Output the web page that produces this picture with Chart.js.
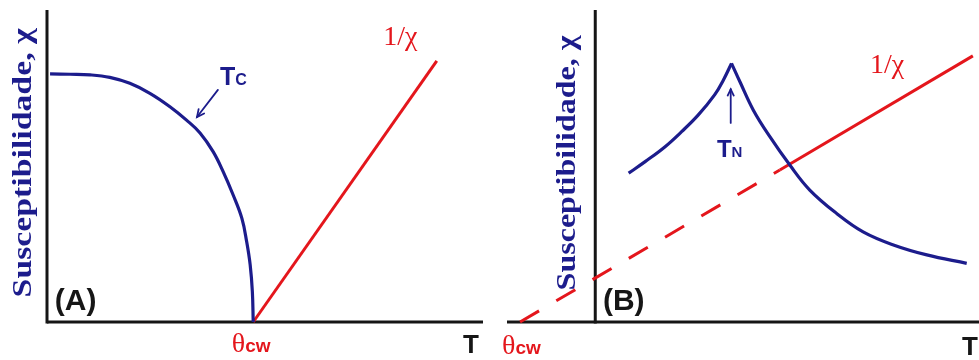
<!DOCTYPE html>
<html><head><meta charset="utf-8">
<script src="https://cdn.jsdelivr.net/npm/chart.js@4.4.1/dist/chart.umd.min.js"></script>
<style>
html,body{margin:0;padding:0;background:#fff;}
#wrap{position:relative;width:979px;height:360px;overflow:hidden;background:#fff;}
canvas{position:absolute;top:0;}
</style></head><body>
<div id="wrap">
<canvas id="ca" width="490" height="360" style="left:0;width:490px;height:360px"></canvas>
<canvas id="cb" width="489" height="360" style="left:490px;width:489px;height:360px"></canvas>
</div>
<script>
// ---------- data ----------
// Panel A: ferromagnet
const tA_chi  = [0.7, 5.3, 9.9, 14.4, 19.0, 23.6, 28.2, 32.0, 35.1, 38.1, 40.4, 42.7, 44.7, 45.8, 46.6, 47.1, 47.3];
const chiA    = [79.5, 79.4, 79.2, 78.4, 76.5, 73.3, 69.0, 64.7, 60.6, 54.6, 48.2, 40.7, 33.2, 25.7, 18.3, 9.7, 0];
const tA_inv  = [47.3, 89.4];
const invA    = [0, 83.7];
// Panel B: antiferromagnet
const tB_chiLow  = [8.7, 13.0, 18.2, 22.5, 26.8, 31.1, 33.4, 35.5];
const chiB_low   = [47.7, 51.4, 56.2, 61.0, 66.3, 72.8, 77.6, 82.9];
const tB_chiHigh = [35.5, 37.7, 41.2, 45.5, 50.7, 55.9, 62.9, 69.8, 77.7, 86.4, 96.8];
const chiB_high  = [82.9, 77.0, 67.9, 59.4, 50.3, 42.3, 34.8, 28.9, 24.7, 21.5, 18.8];
const tB_inv  = [-19.6, 48.1, 98.4];   // θcw, start of measured region, end
const invB    = [0, 48.7, 85.3];
// text labels
const yTitle = 'Susceptibilidade, χ';
const invLabel = '1/χ';
const tLabel = 'T';
const thetaMain = 'θ', thetaSub = 'cw';
const tcMain = 'T', tcSub = 'C';
const tnMain = 'T', tnSub = 'N';
const panelA = '(A)', panelB = '(B)';

// ---------- styling ----------
const NAVY = '#1c1c8c', RED = '#e4161c', INK = '#161616';
const SERIF = '"Liberation Serif", "Times New Roman", "DejaVu Serif", serif';
const SANS = '"Liberation Sans", Arial, sans-serif';

const pts = (xs, ys) => xs.map((x, i) => ({x, y: ys[i]}));

const annot = {
  id: 'annot',
  beforeDatasetsDraw(chart, args, o) {
    const {ctx, chartArea: ca, scales: {x, y}} = chart;
    const x0 = x.getPixelForValue(0), y0 = y.getPixelForValue(0);
    ctx.save();
    ctx.strokeStyle = INK; ctx.lineWidth = 3; ctx.lineCap = 'butt';
    ctx.beginPath(); ctx.moveTo(x0, ca.top); ctx.lineTo(x0, y0 + 1.5); ctx.stroke();
    ctx.beginPath(); ctx.moveTo(ca.left, y0); ctx.lineTo(ca.right, y0); ctx.stroke();
    // rotated y title, stretched to the reference length
    ctx.translate(x0 - o.titleGap, y.getPixelForValue(o.titleMid));
    ctx.rotate(-Math.PI / 2);
    ctx.font = 'bold ' + o.titleSize + 'px ' + SERIF;
    const w = ctx.measureText(yTitle).width;
    ctx.scale(o.titleLen / w, 1);
    ctx.fillStyle = NAVY; ctx.textAlign = 'center'; ctx.textBaseline = 'middle';
    ctx.fillText(yTitle, 0, 0);
    ctx.restore();
  },
  afterDatasetsDraw(chart, args, o) {
    const {ctx, scales: {x, y}} = chart;
    ctx.save();
    ctx.textBaseline = 'alphabetic'; ctx.textAlign = 'left';
    for (const lab of o.labels) {
      let px = x.getPixelForValue(lab.x);
      const py = y.getPixelForValue(lab.y);
      ctx.fillStyle = lab.color;
      for (const p of lab.parts) {
        ctx.font = p.font;
        ctx.fillText(p.t, px, py);
        px += ctx.measureText(p.t).width + (p.gap || 0);
      }
    }
    for (const a of o.arrows) {
      const x1 = x.getPixelForValue(a.from[0]), y1 = y.getPixelForValue(a.from[1]);
      const x2 = x.getPixelForValue(a.to[0]), y2 = y.getPixelForValue(a.to[1]);
      ctx.strokeStyle = a.color; ctx.lineWidth = a.width; ctx.lineCap = 'round';
      ctx.beginPath(); ctx.moveTo(x1, y1); ctx.lineTo(x2, y2); ctx.stroke();
      const ang = Math.atan2(y2 - y1, x2 - x1);
      ctx.beginPath();
      ctx.moveTo(x2 - a.head * Math.cos(ang - 0.45), y2 - a.head * Math.sin(ang - 0.45));
      ctx.lineTo(x2, y2);
      ctx.lineTo(x2 - a.head * Math.cos(ang + 0.45), y2 - a.head * Math.sin(ang + 0.45));
      ctx.stroke();
    }
    ctx.restore();
  }
};

function makeChart(id, xmin, xmax, pad, datasets, annotOpts) {
  return new Chart(document.getElementById(id), {
    type: 'line',
    data: {datasets},
    options: {
      responsive: false, animation: false, devicePixelRatio: 1,
      layout: {padding: pad},
      parsing: true,
      scales: {
        x: {type: 'linear', min: xmin, max: xmax, display: false},
        y: {type: 'linear', min: 0, max: 100, display: false}
      },
      elements: {point: {radius: 0, hoverRadius: 0}, line: {capBezierPoints: false}},
      plugins: {legend: {display: false}, tooltip: {enabled: false}, annot: annotOpts}
    },
    plugins: [annot]
  });
}

const lineDs = (data, color, extra) => Object.assign({
  data, borderColor: color, backgroundColor: color,
  borderWidth: 3.2, pointRadius: 0, fill: false, clip: false,
  borderJoinStyle: 'round', tension: 0
}, extra || {});

makeChart('ca', 0, 100, {left: 47, right: 7, top: 10, bottom: 38}, [
  lineDs(pts(tA_chi, chiA), NAVY, {tension: 0.4}),
  lineDs(pts(tA_inv, invA), RED, {borderWidth: 3})
], {
  titleGap: 23, titleMid: 51, titleSize: 28, titleLen: 269,
  labels: [
    {x: 77.1, y: 88.8, color: RED, parts: [{t: invLabel, font: '28px ' + SERIF}]},
    {x: 39.7, y: 76.0, color: NAVY, parts: [{t: tcMain, font: 'bold 25px ' + SANS}, {t: tcSub, font: 'bold 16px ' + SANS}]},
    {x: 42.4, y: -9.6, color: RED, parts: [{t: thetaMain, font: '28px ' + SERIF}, {t: thetaSub, font: 'bold 19px ' + SANS}]},
    {x: 95.4, y: -9.9, color: INK, parts: [{t: tLabel, font: 'bold 26px ' + SANS}]},
    {x: 1.8, y: 3.8, color: INK, parts: [{t: panelA, font: 'bold 30px ' + SANS}]}
  ],
  arrows: [{from: [39.2, 74.4], to: [34.4, 65.7], color: NAVY, width: 1.8, head: 8}]
});

makeChart('cb', -23, 100, {left: 17, right: 0, top: 10, bottom: 38}, [
  lineDs(pts(tB_chiLow, chiB_low), NAVY, {tension: 0.4}),
  lineDs(pts(tB_chiHigh, chiB_high), NAVY, {tension: 0.4}),
  lineDs(pts(tB_inv, invB), RED, {
    borderWidth: 3,
    segment: {borderDash: c => c.p1.parsed.x <= tB_inv[1] ? [22, 20] : undefined}
  })
], {
  titleGap: 27, titleMid: 51, titleSize: 28, titleLen: 255,
  labels: [
    {x: 71.6, y: 79.8, color: RED, parts: [{t: invLabel, font: '28px ' + SERIF}]},
    {x: 31.7, y: 52.9, color: NAVY, parts: [{t: tnMain, font: 'bold 24px ' + SANS}, {t: tnSub, font: 'bold 15px ' + SANS}]},
    {x: -24.3, y: -10.3, color: RED, parts: [{t: thetaMain, font: '28px ' + SERIF}, {t: thetaSub, font: 'bold 19px ' + SANS}]},
    {x: 95.6, y: -10.6, color: INK, parts: [{t: tLabel, font: 'bold 26px ' + SANS}]},
    {x: 2.0, y: 3.8, color: INK, parts: [{t: panelB, font: 'bold 30px ' + SANS}]}
  ],
  arrows: [{from: [35.3, 63.8], to: [35.3, 74.6], color: NAVY, width: 1.8, head: 7}]
});
</script>
</body></html>
